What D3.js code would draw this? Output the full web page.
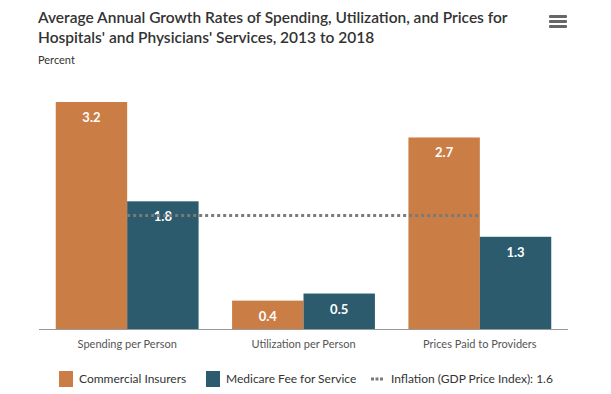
<!DOCTYPE html>
<html>
<head>
<meta charset="utf-8">
<script src="https://cdn.jsdelivr.net/npm/d3@7"></script>
<style>
  body { margin: 0; background: #fff; }
  svg { display: block; font-family: Lato, "Open Sans", sans-serif; }
</style>
</head>
<body>
<svg id="chart" width="611" height="394"></svg>
<script>
// Chart data
const categories = ["Spending per Person", "Utilization per Person", "Prices Paid to Providers"];
const seriesNames = ["Commercial Insurers", "Medicare Fee for Service"];
const commercial = [3.2, 0.4, 2.7];
const medicare = [1.8, 0.5, 1.3];
const inflation = 1.6;
const inflationLabel = "Inflation (GDP Price Index): 1.6";
const titleLines = ["Average Annual Growth Rates of Spending, Utilization, and Prices for",
                    "Hospitals' and Physicians' Services, 2013 to 2018"];

const colors = ["#CA7E46", "#2C5B6E"];

const svg = d3.select("#chart");

// Title and unit label
svg.selectAll(".title")
    .data(titleLines)
    .enter()
    .append("text")
    .attr("class", "title")
    .attr("x", 38)
    .attr("y", (d, i) => 23 + i * 20)
    .attr("fill", "#333")
    .style("font-size", "15.5px")
    .style("font-weight", 600)
    .text(d => d);

svg.append("text")
    .attr("x", 38)
    .attr("y", 64)
    .attr("fill", "#333")
    .style("font-size", "11px")
    .text("Percent");

// Menu icon
[0, 5, 10].forEach(dy => {
    svg.append("rect")
        .attr("x", 549).attr("y", 15 + dy)
        .attr("width", 18).attr("height", 3)
        .attr("rx", 1)
        .attr("fill", "#666");
});

// Scales
const x = d3.scaleBand()
    .domain(categories)
    .range([39, 568])
    .paddingInner(0.19)
    .paddingOuter(0.095);

const xSub = d3.scaleBand()
    .domain(seriesNames)
    .range([0, x.bandwidth()]);

const y = d3.scaleLinear()
    .domain([0, 3.2])
    .range([329, 102]);

// Bars
const rows = categories.map((c, i) => ({ cat: c, values: [commercial[i], medicare[i]] }));

const groups = svg.selectAll(".group")
    .data(rows)
    .enter()
    .append("g")
    .attr("transform", d => `translate(${x(d.cat)},0)`);

groups.selectAll("rect")
    .data(d => d.values.map((v, j) => ({ v, s: seriesNames[j], j })))
    .enter()
    .append("rect")
    .attr("x", d => xSub(d.s))
    .attr("y", d => y(d.v))
    .attr("width", xSub.bandwidth())
    .attr("height", d => y(0) - y(d.v))
    .attr("fill", d => colors[d.j]);

// Inflation line from center of first group to center of last group
svg.append("line")
    .attr("x1", x(categories[0]) + x.bandwidth() / 2)
    .attr("x2", x(categories[2]) + x.bandwidth() / 2)
    .attr("y1", y(inflation))
    .attr("y2", y(inflation))
    .attr("stroke", "#7a7a7a")
    .attr("stroke-width", 3)
    .attr("stroke-dasharray", "3,3");

// Value labels
groups.selectAll(".val")
    .data(d => d.values.map((v, j) => ({ v, s: seriesNames[j] })))
    .enter()
    .append("text")
    .attr("x", d => xSub(d.s) + xSub.bandwidth() / 2)
    .attr("y", d => y(d.v) + 20)
    .attr("text-anchor", "middle")
    .attr("fill", "#fff")
    .style("font-size", "13px")
    .style("font-weight", 700)
    .text(d => d3.format(".1f")(d.v));

// X axis
const xAxis = svg.append("g")
    .attr("transform", `translate(0,${y(0)})`)
    .call(d3.axisBottom(x).tickSize(0).tickPadding(11));
xAxis.select(".domain").attr("stroke", "#999").attr("d", "M39,0.5H568");
xAxis.selectAll("text")
    .attr("fill", "#555")
    .style("font-size", "11px")
    .style("font-family", "Lato, 'Open Sans', sans-serif");

// Legend
const legend = svg.append("g").attr("transform", "translate(0,371)");
const legendItems = [
    { label: seriesNames[0], x: 59, type: "rect", color: colors[0] },
    { label: seriesNames[1], x: 206, type: "rect", color: colors[1] },
    { label: inflationLabel, x: 371, type: "dots" }
];
legendItems.forEach(item => {
    if (item.type === "rect") {
        legend.append("rect")
            .attr("x", item.x).attr("y", 0)
            .attr("width", 14).attr("height", 16)
            .attr("fill", item.color);
        legend.append("text")
            .attr("x", item.x + 20).attr("y", 12)
            .attr("fill", "#333")
            .style("font-size", "12px")
            .text(item.label);
    } else {
        legend.append("line")
            .attr("x1", item.x).attr("x2", item.x + 12)
            .attr("y1", 8).attr("y2", 8)
            .attr("stroke", "#7a7a7a")
            .attr("stroke-width", 3)
            .attr("stroke-dasharray", "3,1.5");
        legend.append("text")
            .attr("x", item.x + 20).attr("y", 12)
            .attr("fill", "#333")
            .style("font-size", "12px")
            .text(item.label);
    }
});
</script>
</body>
</html>
